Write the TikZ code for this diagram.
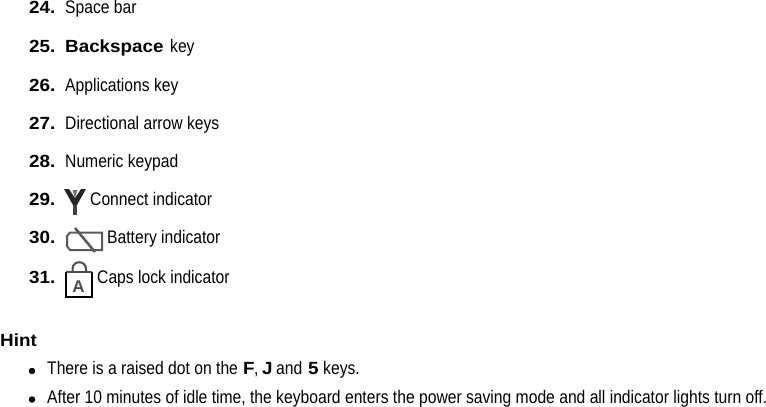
\documentclass[tikz,border=0pt]{standalone}
\usepackage{fontspec}
\setmainfont{Liberation Sans}
\newfontfamily\cond[FakeStretch=0.861]{Liberation Sans}
\newfontfamily\widebold[FakeStretch=1.07]{Liberation Sans Bold}
\tikzset{x=1pt,y=-1pt,
 num/.style={anchor=base west,inner sep=0,font=\fontsize{17.6}{20}\widebold},
 txt/.style={anchor=base west,inner sep=0,font=\fontsize{18.2}{20}\cond},
 dotb/.style={circle,fill=black,inner sep=0,minimum size=6.5pt}}
\begin{document}
\begin{tikzpicture}
\useasboundingbox (0,0) rectangle (766,407);
\node[num] (n24) at (29,13.6) {24.};
\node[txt] (t24) at (65,13.6) {Space bar};
\node[num] (n25) at (29,52) {25.};
\node[num] (b25) at (65,52) {Backspace};
\node[txt] (t25) at (170,52) {key};
\node[num] (n26) at (29,91) {26.};
\node[txt] (t26) at (65,91) {Applications key};
\node[num] (n27) at (29,129) {27.};
\node[txt] (t27) at (65,129) {Directional arrow keys};
\node[num] (n28) at (29,167) {28.};
\node[txt] (t28) at (65,167) {Numeric keypad};
\node[num] (n29) at (29,205) {29.};
\node[txt] (t29) at (90,205) {Connect indicator};
\node[num] (n30) at (29,243) {30.};
\node[txt] (t30) at (107,243) {Battery indicator};
\node[num] (n31) at (29,283) {31.};
\node[txt] (t31) at (97,283) {Caps lock indicator};
% antenna icon
\draw[line width=3.4pt,black!75] (75,215) -- (75,202);
\fill[black!85] (64,189) -- (69,189) -- (75,198) -- (81,189) -- (86,189) -- (77,205) -- (73,205) -- cycle;
\fill[black!55] (72.5,190) -- (77.5,190) -- (75,198) -- cycle;
% battery icon
\draw[line width=2pt,black!65] (70,232.5) -- (102,232.5) -- (102,250) -- (70,250) -- (67,246) -- (67,236) -- cycle;
\draw[line width=2.6pt,black!65] (75,228) -- (95,252);
% lock icon
\draw[line width=1.4pt,black!70] (65.5,272) -- (92,272);
\draw[line width=2pt,black] (65.5,272) -- (65.5,296.5) -- (92,296.5) -- (92,272);
\draw[line width=2pt,black!70] (72.5,272) -- (72.5,269) .. controls (72.5,260) and (86,260) .. (86,269) -- (86,272);
\node[anchor=base,inner sep=0,font=\fontsize{17}{20}\selectfont\bfseries,black!70] (a31) at (78.5,292) {A};
\node[num] (hint) at (0,346) {Hint};
\node[dotb] (d1) at (32,371) {};
\node[txt] (h1) at (47,374) {There is a raised dot on the};
\node[num] (hf) at (243,374) {F};
\node[txt] (hc) at (254,374) {,};
\node[num] (hj) at (262,374) {J};
\node[txt] (ha) at (276,374) {and};
\node[num] (h5) at (308,374) {5};
\node[txt] (hk) at (323,374) {keys.};
\node[dotb] (d2) at (32,399.5) {};
\node[txt] (h2) at (47,403) {After 10 minutes of idle time, the keyboard enters the power saving mode and all indicator lights turn off.};
\end{tikzpicture}
\end{document}
